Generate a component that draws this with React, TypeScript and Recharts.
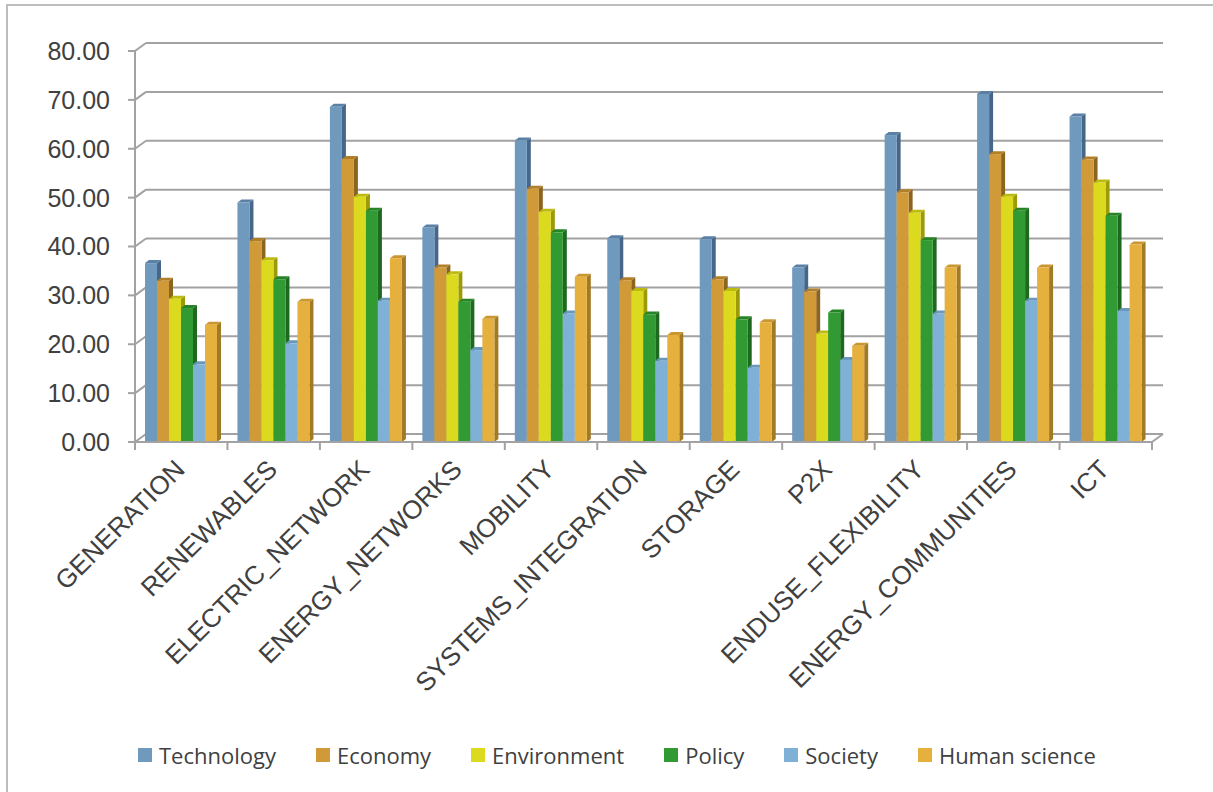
import { BarChart, Bar, XAxis, YAxis, CartesianGrid, Legend } from 'recharts'

const categories = [
  'GENERATION',
  'RENEWABLES',
  'ELECTRIC_NETWORK',
  'ENERGY_NETWORKS',
  'MOBILITY',
  'SYSTEMS_INTEGRATION',
  'STORAGE',
  'P2X',
  'ENDUSE_FLEXIBILITY',
  'ENERGY_COMMUNITIES',
  'ICT',
]
const technology = [36.6, 49.0, 68.6, 43.9, 61.7, 41.7, 41.5, 35.7, 62.8, 71.2, 66.6]
const economy = [33.0, 41.1, 57.9, 35.7, 51.8, 33.1, 33.3, 30.8, 51.1, 58.9, 57.8]
const environment = [29.3, 37.2, 50.2, 34.3, 47.1, 30.9, 30.9, 22.2, 46.9, 50.2, 53.1]
const policy = [27.4, 33.3, 47.3, 28.7, 42.9, 26.1, 25.1, 26.5, 41.3, 47.3, 46.3]
const society = [15.9, 20.2, 28.9, 18.8, 26.3, 16.6, 15.2, 16.8, 26.3, 28.9, 26.8]
const humanScience = [24.0, 28.7, 37.6, 25.2, 33.8, 21.9, 24.5, 19.7, 35.7, 35.7, 40.4]
const yTicks = [0, 10, 20, 30, 40, 50, 60, 70, 80]

const series = [
  { key: 'technology', name: 'Technology', values: technology, front: '#7099be', side: '#46668a', top: '#5b80a6' },
  { key: 'economy', name: 'Economy', values: economy, front: '#d09a38', side: '#8c6420', top: '#b07f28' },
  { key: 'environment', name: 'Environment', values: environment, front: '#dcda1e', side: '#9c9a06', top: '#bdbb10' },
  { key: 'policy', name: 'Policy', values: policy, front: '#319a32', side: '#1d6a1e', top: '#268326' },
  { key: 'society', name: 'Society', values: society, front: '#7fb0d6', side: '#55809f', top: '#6a98bd' },
  { key: 'humanScience', name: 'Human science', values: humanScience, front: '#e6b03f', side: '#a27a26', top: '#c99630' },
]

const data = categories.map((name, i) => {
  const row: Record<string, string | number> = { name }
  series.forEach((s) => {
    row[s.key] = s.values[i]
  })
  return row
})

const W = 1213
const H = 792
const MARGIN = { top: 51, right: 61, bottom: 16, left: 35 }
const PLOT_W = W - MARGIN.left - MARGIN.right - 100
const BAND = PLOT_W / categories.length
// 3D offsets: back wall and bar depth
const BX = 11
const BY = 8
const DX = 4
const DY = 3
const GRID = '#a2a2a2'
const TEXT = '#404040'

function make3DBar(front: string, side: string, top: string) {
  return (props: any) => {
    const { x, y, width, height } = props
    if (width == null || height == null || height <= 0) return <g />
    return (
      <g>
        <polygon
          points={`${x + width},${y} ${x + width + DX},${y - DY} ${x + width + DX},${y + height - DY} ${x + width},${y + height}`}
          fill={side}
        />
        <polygon
          points={`${x},${y} ${x + DX},${y - DY} ${x + width + DX},${y - DY} ${x + width},${y}`}
          fill={top}
        />
        <rect x={x} y={y} width={width} height={height} fill={front} />
      </g>
    )
  }
}

function gridLine(props: any) {
  const { x1, y1, x2, y, height } = props
  const isFloor = y != null && height != null && Math.abs(y1 - (y + height)) < 1
  return (
    <g key={props.key}>
      <line x1={x1} y1={y1} x2={x1 + BX} y2={y1 - BY} stroke={GRID} strokeWidth={2} />
      <line x1={x1 + BX} y1={y1 - BY} x2={x2 + BX} y2={y1 - BY} stroke={GRID} strokeWidth={2} />
      {isFloor && <line x1={x2} y1={y1} x2={x2 + BX} y2={y1 - BY} stroke={GRID} strokeWidth={2} />}
    </g>
  )
}

function XTick(props: any) {
  const { x, y, payload, index } = props
  const axisY = y - 8
  const left = x - BAND / 2
  return (
    <g>
      <line x1={left} y1={axisY} x2={left} y2={axisY + 8} stroke={GRID} strokeWidth={2} />
      {index === categories.length - 1 && (
        <line x1={x + BAND / 2} y1={axisY} x2={x + BAND / 2} y2={axisY + 8} stroke={GRID} strokeWidth={2} />
      )}
      <text
        transform={`translate(${x + 5},${y + 21}) rotate(-45)`}
        textAnchor="end"
        fontSize={26}
        fontFamily="'Liberation Sans', Arial, sans-serif"
        fill={TEXT}
      >
        {payload.value}
      </text>
    </g>
  )
}

function LegendRow() {
  return (
    <div
      style={{
        height: 64,
        boxSizing: 'border-box',
        paddingTop: 28,
        paddingLeft: 103,
        display: 'flex',
        gap: 40,
        fontFamily: "'Open Sans', sans-serif",
        fontSize: 22,
        color: TEXT,
        whiteSpace: 'nowrap',
      }}
    >
      {series.map((s) => (
        <div key={s.key} style={{ display: 'flex', alignItems: 'center', gap: 7, height: 30 }}>
          <div style={{ width: 14, height: 14, background: s.front }} />
          <span>{s.name}</span>
        </div>
      ))}
    </div>
  )
}

export default function App() {
  return (
    <div style={{ position: 'absolute', left: 0, top: 0, width: W, height: H, overflow: 'hidden', background: '#fff' }}>
      <div
        style={{
          position: 'absolute',
          left: 6,
          top: 4,
          width: 1400,
          height: 1000,
          border: '2px solid #bdbdbd',
        }}
      />
      <div style={{ position: 'absolute', left: 0, top: 0 }}>
        <BarChart
          width={W}
          height={H}
          data={data}
          margin={MARGIN}
          barSize={12}
          barGap={0}
        >
          <CartesianGrid vertical={false} horizontal={gridLine} />
          <XAxis
            dataKey="name"
            interval={0}
            height={270}
            tickLine={false}
            tickSize={8}
            tickMargin={0}
            axisLine={{ stroke: GRID, strokeWidth: 2 }}
            tick={<XTick />}
          />
          <YAxis
            width={100}
            domain={[0, 80]}
            ticks={yTicks}
            interval={0}
            tickFormatter={(v: number) => v.toFixed(2)}
            axisLine={{ stroke: GRID, strokeWidth: 2 }}
            tickLine={{ stroke: GRID, strokeWidth: 2 }}
            tickSize={7}
            tickMargin={18}
            tick={{ fontSize: 25, fill: TEXT, fontFamily: "'Liberation Sans', Arial, sans-serif" }}
          />
          {series.map((s) => (
            <Bar
              key={s.key}
              dataKey={s.key}
              name={s.name}
              fill={s.front}
              shape={make3DBar(s.front, s.side, s.top)}
              isAnimationActive={false}
            />
          ))}
          <Legend verticalAlign="bottom" content={() => <LegendRow />} />
        </BarChart>
      </div>
    </div>
  )
}
